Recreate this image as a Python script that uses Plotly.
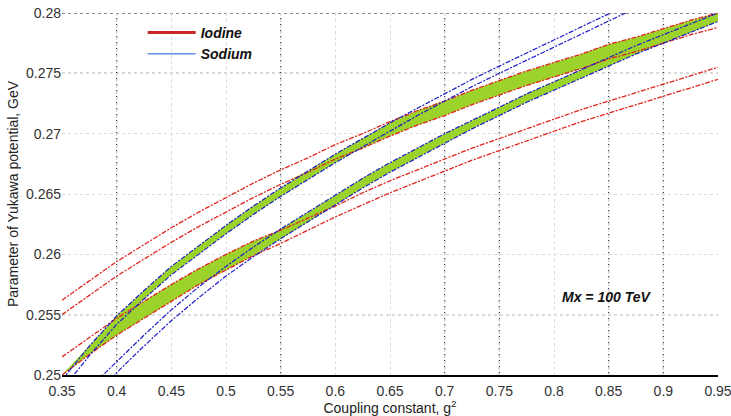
import numpy as np
import plotly.graph_objects as go

# ---------------- data ----------------
g2 = [0.35, 0.375, 0.40, 0.425, 0.45, 0.475, 0.50, 0.525, 0.55, 0.575, 0.60, 0.625,
      0.65, 0.675, 0.70, 0.725, 0.75, 0.775, 0.80, 0.825, 0.85, 0.875, 0.90, 0.925, 0.95]

# Iodine curves (two bands: upper pair a/b, lower pair c/d)
iodine_a = [0.2562, 0.2578, 0.2594, 0.2608, 0.2622, 0.2635, 0.2647, 0.2659, 0.2670, 0.2680,
            0.2691, 0.2700, 0.2710, 0.2719, 0.2727, 0.2736, 0.2744, 0.2752, 0.2759, 0.2766,
            0.2774, 0.2780, 0.2787, 0.2794, 0.2800]
iodine_b = [0.2550, 0.2566, 0.2582, 0.2596, 0.2610, 0.2623, 0.2635, 0.2647, 0.2658, 0.2668,
            0.2679, 0.2688, 0.2698, 0.2707, 0.2715, 0.2724, 0.2732, 0.2740, 0.2747, 0.2754,
            0.2762, 0.2768, 0.2775, 0.2782, 0.2788]
iodine_c = [0.2515, 0.2531, 0.2547, 0.2561, 0.2575, 0.2588, 0.2600, 0.2611, 0.2620, 0.2630,
            0.2640, 0.2651, 0.2661, 0.2670, 0.2679, 0.2688, 0.2696, 0.2704, 0.2712, 0.2720,
            0.2727, 0.2734, 0.2741, 0.2748, 0.2755]
iodine_d = [0.2500, 0.2517, 0.2533, 0.2547, 0.2561, 0.2575, 0.2587, 0.2599, 0.2609, 0.2620,
            0.2631, 0.2641, 0.2651, 0.2660, 0.2669, 0.2678, 0.2686, 0.2694, 0.2702, 0.2710,
            0.2717, 0.2724, 0.2731, 0.2738, 0.2745]

# Sodium curves (two bands: left pair a/b, right pair c/d)
sodium_a = [0.2496, 0.2524, 0.2549, 0.2570, 0.2590, 0.2607, 0.2624, 0.2640, 0.2655, 0.2669,
            0.2683, 0.2696, 0.2709, 0.2721, 0.2733, 0.2745, 0.2756, 0.2767, 0.2778, 0.2789,
            0.2800, 0.2811, 0.2821, 0.2831, 0.2841]
sodium_b = [0.2488, 0.2516, 0.2542, 0.2563, 0.2583, 0.2600, 0.2617, 0.2633, 0.2648, 0.2662,
            0.2676, 0.2689, 0.2702, 0.2715, 0.2727, 0.2739, 0.2750, 0.2761, 0.2772, 0.2783,
            0.2794, 0.2805, 0.2815, 0.2825, 0.2835]
sodium_c = [0.2466, 0.2489, 0.2511, 0.2533, 0.2554, 0.2573, 0.2590, 0.2606, 0.2621, 0.2635,
            0.2649, 0.2663, 0.2676, 0.2688, 0.2700, 0.2711, 0.2722, 0.2733, 0.2743, 0.2753,
            0.2763, 0.2773, 0.2782, 0.2791, 0.2800]
sodium_d = [0.2456, 0.2479, 0.2502, 0.2524, 0.2545, 0.2564, 0.2582, 0.2598, 0.2613, 0.2627,
            0.2641, 0.2655, 0.2668, 0.2680, 0.2692, 0.2704, 0.2715, 0.2726, 0.2736, 0.2746,
            0.2756, 0.2766, 0.2775, 0.2784, 0.2793]

x_ticks = [0.35, 0.40, 0.45, 0.50, 0.55, 0.60, 0.65, 0.70, 0.75, 0.80, 0.85, 0.90, 0.95]
x_tick_labels = ["0.35", "0.4", "0.45", "0.5", "0.55", "0.6", "0.65", "0.7", "0.75",
                 "0.8", "0.85", "0.9", "0.95"]
y_ticks = [0.25, 0.255, 0.26, 0.265, 0.27, 0.275, 0.28]
y_tick_labels = ["0.25", "0.255", "0.26", "0.265", "0.27", "0.275", "0.28"]
dark_grid_x = [0.40, 0.55, 0.70, 0.75, 0.85, 0.90]
dark_grid_y = [0.255, 0.275, 0.28]

# ---------------- figure ----------------
RED = "#E0251F"
BLUE = "#1C1CC8"
GREEN = "#9BD32A"
FONT = "Liberation Sans, Arial, sans-serif"

x = np.array(g2)
Ra, Rb, Rc, Rd = (np.array(v) for v in (iodine_a, iodine_b, iodine_c, iodine_d))
Sa, Sb, Sc, Sd = (np.array(v) for v in (sodium_a, sodium_b, sodium_c, sodium_d))

# overlap regions: each band clipped to the span of the other element
regions = [
    (np.maximum(Rb, Sd), np.minimum(Ra, Sa)),
    (np.maximum(Rd, Sd), np.minimum(Rc, Sa)),
    (np.maximum(Sb, Rd), np.minimum(Sa, Ra)),
    (np.maximum(Sd, Rd), np.minimum(Sc, Ra)),
]

fig = go.Figure()
for lo, hi in regions:
    hi = np.maximum(hi, lo)
    fig.add_trace(go.Scatter(
        x=np.concatenate([x, x[::-1]]), y=np.concatenate([hi, lo[::-1]]),
        fill="toself", fillcolor=GREEN, mode="lines", line=dict(width=0),
        hoverinfo="skip", showlegend=False))

for ys in (iodine_a, iodine_b, iodine_c, iodine_d):
    fig.add_trace(go.Scatter(x=g2, y=ys, mode="lines",
                             line=dict(color=RED, width=1.3, dash="5px,1.5px,2px,1.5px"),
                             showlegend=False))
for ys in (sodium_a, sodium_b, sodium_c, sodium_d):
    fig.add_trace(go.Scatter(x=g2, y=ys, mode="lines",
                             line=dict(color=BLUE, width=1.2, dash="5px,1.5px,2px,1.5px"),
                             showlegend=False))

# legend entries
fig.add_trace(go.Scatter(x=[None], y=[None], mode="lines", name="Iodine",
                         line=dict(color="#D0262B", width=3)))
fig.add_trace(go.Scatter(x=[None], y=[None], mode="lines", name="Sodium",
                         line=dict(color="#5E8FE6", width=1.5)))

for v in dark_grid_x:
    fig.add_shape(type="line", xref="x", yref="paper", x0=v, x1=v, y0=0, y1=1,
                  line=dict(color="#1a1a1a", width=1, dash="dot"), layer="below")
for v in dark_grid_y:
    fig.add_shape(type="line", xref="paper", yref="y", x0=0, x1=1, y0=v, y1=v,
                  line=dict(color="#1a1a1a", width=1, dash="dot"), layer="below")

fig.add_annotation(x=0.848, y=0.25647, xref="x", yref="y", showarrow=False,
                   text="<b><i>Mx = 100 TeV</i></b>",
                   font=dict(family=FONT, size=14, color="#111"))

fig.update_layout(
    width=731, height=416,
    margin=dict(l=62, r=13, t=13, b=41),
    paper_bgcolor="white", plot_bgcolor="white",
    font=dict(family=FONT, size=14, color="#222"),
    legend=dict(x=0.123, y=0.989, xanchor="left", yanchor="top",
                bgcolor="rgba(0,0,0,0)", tracegroupgap=0, itemwidth=48,
                font=dict(family=FONT, size=14, color="#111", weight="bold", style="italic")),
    xaxis=dict(range=[0.35, 0.95], tickvals=x_ticks, ticktext=x_tick_labels,
               showgrid=True, gridcolor="#dcdcdc", griddash="dot", gridwidth=1,
               zeroline=False, showline=True, linecolor="black", linewidth=1.5,
               ticks="", automargin=False, ticklabeloverflow="allow",
               ticklabelstandoff=2,
               tickfont=dict(size=14, color="#333"),
               title=dict(text="Coupling constant, g<sup>2</sup>", standoff=0,
                          font=dict(size=14, color="#222"))),
    yaxis=dict(range=[0.25, 0.28], tickvals=y_ticks, ticktext=y_tick_labels,
               showgrid=True, gridcolor="#dcdcdc", griddash="dot", gridwidth=1,
               zeroline=False, showline=False, ticks="", automargin=False,
               ticklabeloverflow="allow",
               tickfont=dict(size=14, color="#333"),
               title=dict(text="Parameter of Yukawa potential, GeV", standoff=4,
                          font=dict(size=14, color="#222"))),
)

# remove the browser's default 8px page margin so the figure sits at the window origin
fig.write_html("out.html", config={"displayModeBar": False},
               post_script="document.body.style.margin='0';")
